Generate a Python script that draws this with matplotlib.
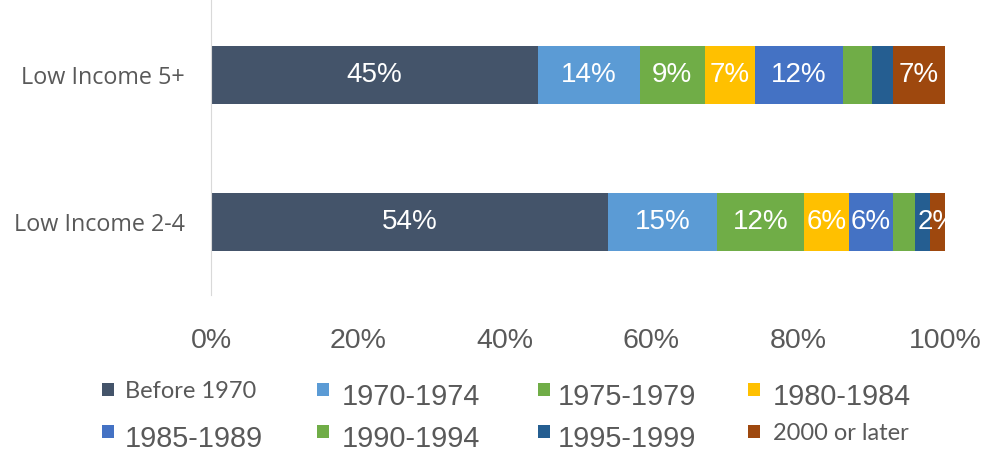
import numpy as np
import matplotlib.pyplot as plt
from matplotlib.patches import Rectangle

# share of housing stock by year built, low income groups
groups = ["Low Income 2-4", "Low Income 5+"]
periods = ["Before 1970", "1970-1974", "1975-1979", "1980-1984",
           "1985-1989", "1990-1994", "1995-1999", "2000 or later"]
share_2_4 = [54.1, 14.8, 11.9, 6.1, 6.0, 3.0, 2.1, 2.0]
share_5_plus = [44.6, 13.8, 8.9, 6.8, 12.0, 3.9, 2.9, 7.1]
labels_2_4 = ["54%", "15%", "12%", "6%", "6%", "", "", "2%"]
labels_5_plus = ["45%", "14%", "9%", "7%", "12%", "", "", "7%"]
colors = ["#44546A", "#5B9BD5", "#70AD47", "#FFC000",
          "#4472C4", "#70AD47", "#255E91", "#9E480E"]

data = np.array([share_2_4, share_5_plus])
labels = [labels_2_4, labels_5_plus]
ypos = np.arange(len(groups))

fig = plt.figure(figsize=(9.82, 4.53), dpi=100)
ax = fig.add_axes([211 / 982, 1 - 295 / 453, 734 / 982, 295 / 453])

left = np.zeros(len(groups))
for i, period in enumerate(periods):
    vals = data[:, i]
    ax.barh(ypos, vals, left=left, height=0.40, color=colors[i], linewidth=0)
    for j in range(len(groups)):
        txt = labels[j][i]
        if txt:
            ax.text(left[j] + vals[j] / 2, ypos[j], txt, ha="center", va="center",
                    color="white", fontsize=20, family="Liberation Sans",
                    clip_on=True)
    left += vals

ax.set_xlim(0, 100)
ax.set_ylim(-0.497, 1.51)
ax.set_yticks(ypos)
ax.set_yticklabels(groups, family="Open Sans", fontsize=16.8, color="#595959")
ax.set_xticks(np.arange(0, 101, 20))
ax.set_xticklabels([f"{v}%" for v in range(0, 101, 20)],
                   family="Liberation Sans", fontsize=20.5, color="#595959")
ax.tick_params(axis="x", length=0, pad=24)
ax.tick_params(axis="y", length=0, pad=19)
for s in ["top", "right", "bottom"]:
    ax.spines[s].set_visible(False)
ax.spines["left"].set_color("#D9D9D9")

# legend, drawn by hand to get the mixed font sizes
col_x = [102, 317, 538, 748]
text_x = [125, 342, 558, 773]
row_sq = [383, 425]
row_txt = [397, 439]
small = ["Before 1970", "2000 or later"]
for i, period in enumerate(periods):
    r, c = divmod(i, 4)
    fig.patches.append(Rectangle((col_x[c] / 982, 1 - (row_sq[r] + 13) / 453),
                                 12 / 982, 13 / 453, transform=fig.transFigure,
                                 color=colors[i], linewidth=0))
    if period in small:
        fig.text(text_x[c] / 982, 1 - (row_sq[r] + 8) / 453, period,
                 family="Lato", fontsize=17, color="#595959", va="center")
    else:
        fig.text(text_x[c] / 982, 1 - row_txt[r] / 453, period,
                 family="Liberation Sans", fontsize=20.8, color="#595959", va="center")

fig.savefig("out.png", dpi=100)
